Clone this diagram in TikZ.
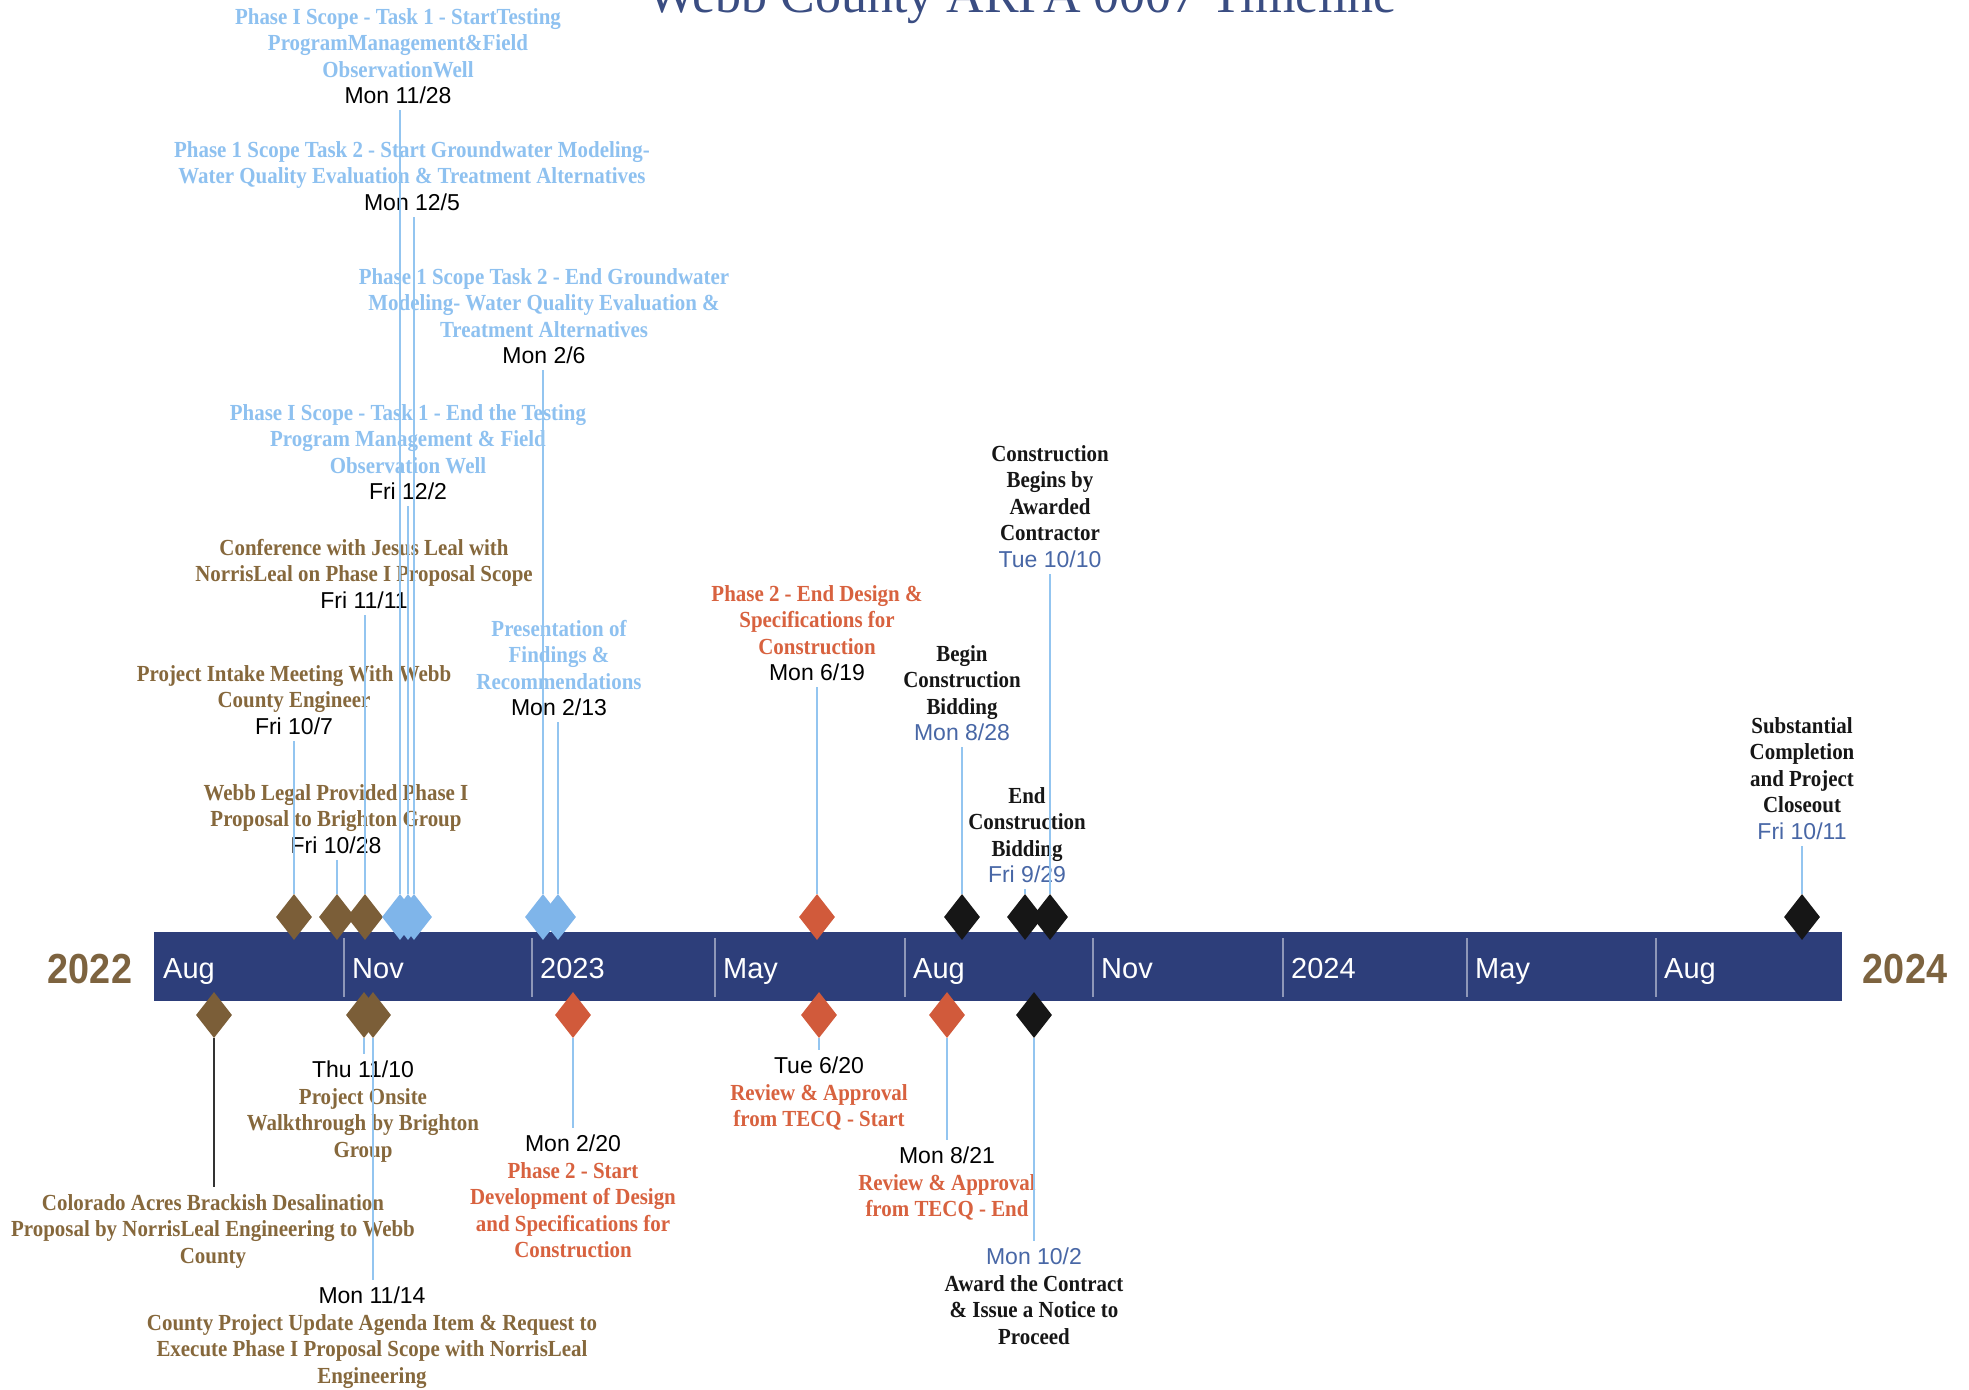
\documentclass[tikz,border=0pt]{standalone}
\usepackage{fontspec}
\usetikzlibrary{shapes.geometric}
\newfontfamily\lblfont{Liberation Serif}[FakeStretch=0.91]
\newfontfamily\datefont{Liberation Sans}
\newfontfamily\yearfont{Liberation Sans}[FakeStretch=0.9]
\newfontfamily\titlefont{Liberation Serif}
\definecolor{navy}{HTML}{2D3E7A}
\definecolor{brn}{HTML}{7B5E38}
\definecolor{brntxt}{HTML}{86683C}
\definecolor{lblue}{HTML}{7FB5EA}
\definecolor{lbluetxt}{HTML}{8EC1F0}
\definecolor{rd}{HTML}{D15A3B}
\definecolor{rdtxt}{HTML}{D8623F}
\definecolor{blk}{HTML}{161616}
\definecolor{dblue}{HTML}{4867A6}
\definecolor{lnc}{HTML}{93C5F0}
\definecolor{tickc}{HTML}{8E97B8}
\definecolor{yearc}{HTML}{7D633F}
\definecolor{titlec}{HTML}{3A4D82}
\newcommand\mydate[1]{{\datefont\mdseries\color{black}#1}}
\newcommand\mydateb[1]{{\datefont\mdseries\color{dblue}#1}}
\begin{document}
\begin{tikzpicture}[x=1pt,y=-1pt,
  lbl/.style={align=center, inner sep=0pt, anchor=north,
    font=\lblfont\bfseries\fontsize{23}{26.5}\selectfont},
  ms/.style={diamond, minimum width=36pt, minimum height=46pt, inner sep=0pt, fill=#1},
  cline/.style={draw=lnc, line width=1.1pt},
  month/.style={anchor=base west, text=white, inner sep=0pt,
    font=\datefont\fontsize{29}{29}\selectfont},
  yearlbl/.style={anchor=base, text=yearc, inner sep=0pt,
    font=\yearfont\bfseries\fontsize{42}{42}\selectfont},
  sepline/.style={draw=tickc, line width=1.2pt}
]
\fill[white] (0,0) rectangle (1969,1389);
\useasboundingbox (0,0) rectangle (1969,1389);

% title (cut at the top edge, as in the reference)
\node[anchor=base, text=titlec, inner sep=0pt,
  font=\titlefont\fontsize{52}{52}\selectfont] (title) at (1022,13) {Webb County ARPA 0007 Timeline};

% bar
\fill[navy] (154,932) rectangle (1842,1001);
\foreach \x in {344,532,715,905,1093,1283,1467,1656}
  \draw[sepline] (\x,938) -- (\x,997);
\node[month] (m1) at (163,978) {Aug};
\node[month] (m2) at (352,978) {Nov};
\node[month] (m3) at (540,978) {2023};
\node[month] (m4) at (723,978) {May};
\node[month] (m5) at (913,978) {Aug};
\node[month] (m6) at (1101,978) {Nov};
\node[month] (m7) at (1291,978) {2024};
\node[month] (m8) at (1475,978) {May};
\node[month] (m9) at (1664,978) {Aug};
\node[yearlbl] (y1) at (90,983) {2022};
\node[yearlbl] (y2) at (1905,983) {2024};

% labels above
\node[lbl, text=lbluetxt] (a1) at (398,8) {Phase I Scope - Task 1 - StartTesting\\ProgramManagement\&Field\\ObservationWell\\\mydate{Mon 11/28}};
\node[lbl, text=lbluetxt] (a2) at (412,141) {Phase 1 Scope Task 2 - Start Groundwater Modeling-\\Water Quality Evaluation \& Treatment Alternatives\\\mydate{Mon 12/5}};
\node[lbl, text=lbluetxt] (a3) at (544,268) {Phase 1 Scope Task 2 - End Groundwater\\Modeling- Water Quality Evaluation \&\\Treatment Alternatives\\\mydate{Mon 2/6}};
\node[lbl, text=lbluetxt] (a4) at (408,404) {Phase I Scope - Task 1 - End the Testing\\Program Management \& Field\\Observation Well\\\mydate{Fri 12/2}};
\node[lbl, text=brntxt] (a5) at (364,539) {Conference with Jesus Leal with\\NorrisLeal on Phase I Proposal Scope\\\mydate{Fri 11/11}};
\node[lbl, text=lbluetxt] (a6) at (559,620) {Presentation of\\Findings \&\\Recommendations\\\mydate{Mon 2/13}};
\node[lbl, text=brntxt] (a7) at (294,665) {Project Intake Meeting With Webb\\County Engineer\\\mydate{Fri 10/7}};
\node[lbl, text=brntxt] (a8) at (336,784) {Webb Legal Provided Phase I\\Proposal to Brighton Group\\\mydate{Fri 10/28}};
\node[lbl, text=rdtxt] (a9) at (817,585) {Phase 2 - End Design \&\\Specifications for\\Construction\\\mydate{Mon 6/19}};
\node[lbl, text=blk] (a10) at (1050,445) {Construction\\Begins by\\Awarded\\Contractor\\\mydateb{Tue 10/10}};
\node[lbl, text=blk] (a11) at (962,645) {Begin\\Construction\\Bidding\\\mydateb{Mon 8/28}};
\node[lbl, text=blk] (a12) at (1027,787) {End\\Construction\\Bidding\\\mydateb{Fri 9/29}};
\node[lbl, text=blk] (a13) at (1802,717) {Substantial\\Completion\\and Project\\Closeout\\\mydateb{Fri 10/11}};

% labels below
\node[lbl, text=brntxt] (b1) at (213,1194) {Colorado Acres Brackish Desalination\\Proposal by NorrisLeal Engineering to Webb\\County};
\node[lbl, text=brntxt] (b2) at (363,1061) {\mydate{Thu 11/10}\\Project Onsite\\Walkthrough by Brighton\\Group};
\node[lbl, text=brntxt] (b3) at (372,1287) {\mydate{Mon 11/14}\\County Project Update Agenda Item \& Request to\\Execute Phase I Proposal Scope with NorrisLeal\\Engineering};
\node[lbl, text=rdtxt] (b4) at (573,1135) {\mydate{Mon 2/20}\\Phase 2 - Start\\Development of Design\\and Specifications for\\Construction};
\node[lbl, text=rdtxt] (b5) at (819,1057) {\mydate{Tue 6/20}\\Review \& Approval\\from TECQ - Start};
\node[lbl, text=rdtxt] (b6) at (947,1147) {\mydate{Mon 8/21}\\Review \& Approval\\from TECQ - End};
\node[lbl, text=blk] (b7) at (1034,1248) {\mydateb{Mon 10/2}\\Award the Contract\\\& Issue a Notice to\\Proceed};

% diamonds above
\node[ms=brn] (da7) at (294,917) {};
\node[ms=brn] (da8) at (337,917) {};
\node[ms=brn] (da5) at (365,917) {};
\node[ms=lblue] (da1) at (400,917) {};
\node[ms=lblue] (da4) at (408,917) {};
\node[ms=lblue] (da2) at (414,917) {};
\node[ms=lblue] (da3) at (543,917) {};
\node[ms=lblue] (da6) at (558,917) {};
\node[ms=rd] (da9) at (817,917) {};
\node[ms=blk] (da11) at (962,917) {};
\node[ms=blk] (da12) at (1025,917) {};
\node[ms=blk] (da10) at (1050,917) {};
\node[ms=blk] (da13) at (1802,917) {};

% diamonds below
\node[ms=brn] (db1) at (214,1015) {};
\node[ms=brn] (db2) at (364,1015) {};
\node[ms=brn] (db3) at (373,1015) {};
\node[ms=rd] (db4) at (573,1015) {};
\node[ms=rd] (db5) at (819,1015) {};
\node[ms=rd] (db6) at (947,1015) {};
\node[ms=blk] (db7) at (1034,1015) {};

% connectors above
\foreach \i in {1,...,13}
  \draw[cline, shorten >=6pt] (da\i.north) -- (da\i.north |- a\i.south);
% connectors below
\draw[draw=black!80, line width=1.4pt, shorten >=7pt] (db1.south) -- (db1.south |- b1.north);
\foreach \i in {2,...,7}
  \draw[cline, shorten >=7pt] (db\i.south) -- (db\i.south |- b\i.north);
\end{tikzpicture}
\end{document}
